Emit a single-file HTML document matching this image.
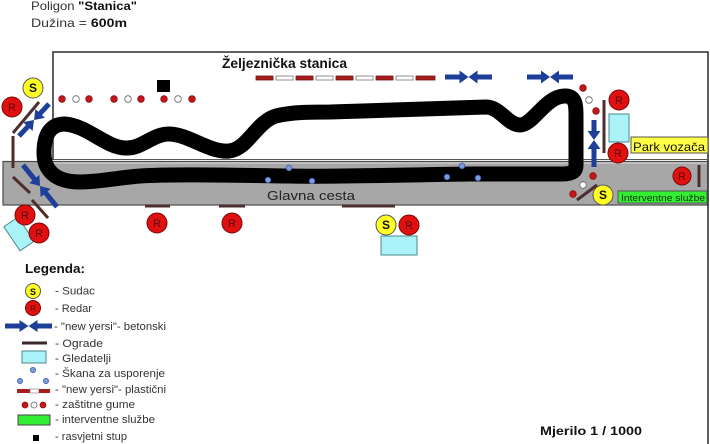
<!DOCTYPE html>
<html><head><meta charset="utf-8"><style>
html,body{margin:0;padding:0;background:#fff;}
svg{display:block;}
text{font-family:"Liberation Sans",sans-serif;}
</style></head><body>
<svg width="710" height="444" viewBox="0 0 710 444" xmlns="http://www.w3.org/2000/svg">
<rect width="710" height="444" fill="#fff"/>
<!-- header -->
<text x="31" y="10" font-size="12" fill="#333" textLength="106" lengthAdjust="spacingAndGlyphs">Poligon <tspan font-weight="bold" fill="#111">"Stanica"</tspan></text>
<text x="31" y="27" font-size="12" fill="#333" textLength="96" lengthAdjust="spacingAndGlyphs">Dužina = <tspan font-weight="bold" fill="#111">600m</tspan></text>

<!-- road -->
<rect x="3" y="161.5" width="705" height="43.5" fill="#a7a7a7" stroke="#4a4a4a" stroke-width="1.2"/>
<line x1="53" y1="163" x2="708" y2="163" stroke="#c8c8c8" stroke-width="1.5"/>
<!-- white area border -->
<polyline points="53,160 53,52 708,52 708,444" fill="none" stroke="#2a2a2a" stroke-width="1.5"/>
<line x1="53" y1="159.5" x2="708" y2="159.5" stroke="#555" stroke-width="1"/>

<!-- track -->
<path d="M 65 124 C 88 126, 105 147, 125 148 C 142 149, 152 134, 169 134 C 188 134, 210 153, 229 151 C 248 149, 256 122, 276 116 C 292 112, 310 112, 330 112 L 486 107 C 500 107, 508 125, 520 125 C 533 125, 545 97, 564 96 C 577 95, 576 108, 576 118 L 576 165 C 576 172, 571 174, 562 174 L 470 174 C 400 175, 330 177, 290 176 C 220 175, 170 174, 140 176 C 115 178, 100 182, 80 182 C 55 182, 44 170, 44 153 C 44 135, 50 124, 65 124 Z" fill="none" stroke="#000" stroke-width="15" stroke-linejoin="round"/>

<text x="267" y="200" font-size="13" fill="#222" textLength="88" lengthAdjust="spacingAndGlyphs">Glavna cesta</text>
<text x="222" y="68" font-size="14" font-weight="bold" fill="#111" textLength="125" lengthAdjust="spacingAndGlyphs">Željeznička stanica</text>

<!-- plastic barrier row -->
<g stroke-width="0.8">
<rect x="256" y="76" width="17" height="4" fill="#a51d1d" stroke="#7a1010"/>
<rect x="276" y="76" width="17" height="4" fill="#fff" stroke="#777"/>
<rect x="296" y="76" width="17" height="4" fill="#a51d1d" stroke="#7a1010"/>
<rect x="316" y="76" width="17" height="4" fill="#fff" stroke="#777"/>
<rect x="336" y="76" width="17" height="4" fill="#a51d1d" stroke="#7a1010"/>
<rect x="356" y="76" width="17" height="4" fill="#fff" stroke="#777"/>
<rect x="376" y="76" width="17" height="4" fill="#a51d1d" stroke="#7a1010"/>
<rect x="396" y="76" width="17" height="4" fill="#fff" stroke="#777"/>
<rect x="416" y="76" width="19" height="4" fill="#a51d1d" stroke="#7a1010"/>
</g>

<!-- blue concrete barriers -->
<g fill="#1d3f9a">
<path transform="translate(468.5,77)" d="M -23.5,-2.5 H -9 V -6.5 L 0 0 L -9 6.5 V 2.5 H -23.5 Z M 23.5,-2.5 H 9 V -6.5 L 0 0 L 9 6.5 V 2.5 H 23.5 Z"/>
<path transform="translate(550,77)" d="M -23,-2.5 H -9 V -6.5 L 0 0 L -9 6.5 V 2.5 H -23 Z M 23,-2.5 H 9 V -6.5 L 0 0 L 9 6.5 V 2.5 H 23 Z"/>
<path transform="translate(594,140) rotate(90)" d="M -20,-2.5 H -9 V -6.5 L 0 0 L -9 6.5 V 2.5 H -20 Z M 27,-2.5 H 9 V -6.5 L 0 0 L 9 6.5 V 2.5 H 27 Z"/>
<path transform="translate(34,120) rotate(-47)" d="M -22,-2.5 H -9 V -6.5 L 0 0 L -9 6.5 V 2.5 H -22 Z M 22,-2.5 H 9 V -6.5 L 0 0 L 9 6.5 V 2.5 H 22 Z"/>
<path transform="translate(40,186) rotate(51)" d="M -27,-2.5 H -9 V -6.5 L 0 0 L -9 6.5 V 2.5 H -27 Z M 27,-2.5 H 9 V -6.5 L 0 0 L 9 6.5 V 2.5 H 27 Z"/>
</g>

<!-- brown fences -->
<g stroke="#4d2d2d" stroke-width="3" fill="none">
<line x1="13" y1="133" x2="39" y2="102"/>
<line x1="13" y1="136" x2="13" y2="168"/>
<line x1="13" y1="177" x2="30" y2="193"/>
<line x1="32" y1="200" x2="48" y2="218"/>
<line x1="604" y1="100" x2="604" y2="153"/>
<line x1="577" y1="200" x2="597" y2="185"/>
<line x1="699" y1="165" x2="699" y2="187"/>
<line x1="145" y1="206" x2="170" y2="206"/>
<line x1="219" y1="206" x2="245" y2="206"/>
<line x1="342" y1="206" x2="395" y2="206"/>
</g>

<!-- tires -->
<g stroke-width="0.8">
<circle cx="62" cy="99" r="3.3" fill="#c5161c" stroke="#8a1010"/>
<circle cx="76" cy="99" r="3.3" fill="#fff" stroke="#666"/>
<circle cx="89" cy="99" r="3.3" fill="#c5161c" stroke="#8a1010"/>
<circle cx="114" cy="99" r="3.3" fill="#c5161c" stroke="#8a1010"/>
<circle cx="128" cy="99" r="3.3" fill="#fff" stroke="#666"/>
<circle cx="141" cy="99" r="3.3" fill="#c5161c" stroke="#8a1010"/>
<circle cx="164" cy="99" r="3.3" fill="#c5161c" stroke="#8a1010"/>
<circle cx="178" cy="99" r="3.3" fill="#fff" stroke="#666"/>
<circle cx="192" cy="99" r="3.3" fill="#c5161c" stroke="#8a1010"/>
<circle cx="583" cy="88" r="3.3" fill="#c5161c" stroke="#8a1010"/>
<circle cx="589" cy="100" r="3.3" fill="#fff" stroke="#666"/>
<circle cx="596" cy="111" r="3.3" fill="#c5161c" stroke="#8a1010"/>
<circle cx="593" cy="176" r="3.3" fill="#c5161c" stroke="#8a1010"/>
<circle cx="583" cy="185" r="3.3" fill="#fff" stroke="#666"/>
<circle cx="573" cy="194" r="3.3" fill="#c5161c" stroke="#8a1010"/>
</g>

<!-- light pole -->
<rect x="157" y="80" width="13" height="12" fill="#000"/>

<!-- chicane dots -->
<g fill="#7d9be0" stroke="#3a5aa8" stroke-width="0.8">
<circle cx="289" cy="168" r="2.8"/>
<circle cx="268" cy="180" r="2.8"/>
<circle cx="312" cy="181" r="2.8"/>
<circle cx="462" cy="166" r="2.8"/>
<circle cx="447" cy="177" r="2.8"/>
<circle cx="478" cy="178" r="2.8"/>
</g>

<!-- spectators -->
<g fill="#aaf3f8" stroke="#4a8a90" stroke-width="1">
<rect x="609" y="114" width="20" height="28"/>
<rect x="381" y="236" width="36" height="19"/>
<rect x="-8.5" y="-14.5" width="17" height="29" transform="translate(19,234) rotate(-34)"/>
</g>

<!-- Park vozaca -->
<rect x="631" y="137" width="77" height="16" fill="#ffff44" stroke="#555" stroke-width="1"/>
<text x="633" y="151" font-size="12" fill="#111" textLength="72" lengthAdjust="spacingAndGlyphs">Park vozača</text>
<!-- Interventne sluzbe -->
<rect x="618" y="191" width="89" height="12" fill="#33ee33" stroke="#555" stroke-width="1"/>
<text x="621" y="201" font-size="9" fill="#113311" textLength="84" lengthAdjust="spacingAndGlyphs">Interventne službe</text>

<!-- S circles -->
<g fill="#ffff22" stroke="#555" stroke-width="1">
<circle cx="33" cy="88" r="10"/>
<circle cx="603" cy="195" r="10"/>
<circle cx="386" cy="225" r="10"/>
<circle cx="33" cy="291" r="7.5"/>
</g>
<g font-size="12" font-weight="bold" fill="#111" text-anchor="middle">
<text x="33" y="92">S</text>
<text x="603" y="199">S</text>
<text x="386" y="229">S</text>
<text x="33" y="295" font-size="9">S</text>
</g>
<!-- R circles -->
<g fill="#e01010" stroke="#7a0808" stroke-width="1">
<circle cx="12" cy="107" r="10"/>
<circle cx="25" cy="215" r="10"/>
<circle cx="39" cy="233" r="10"/>
<circle cx="619" cy="100" r="10"/>
<circle cx="618" cy="153" r="10"/>
<circle cx="682" cy="176" r="9"/>
<circle cx="157" cy="223" r="10"/>
<circle cx="232" cy="223" r="10"/>
<circle cx="409" cy="225" r="10"/>
<circle cx="33" cy="308" r="7.5"/>
</g>
<g font-size="11" fill="#5a0a0a" text-anchor="middle">
<text x="12" y="111">R</text>
<text x="25" y="219">R</text>
<text x="39" y="237">R</text>
<text x="619" y="104">R</text>
<text x="618" y="157">R</text>
<text x="682" y="180">R</text>
<text x="157" y="227">R</text>
<text x="232" y="227">R</text>
<text x="409" y="229">R</text>
<text x="33" y="311" font-size="8">R</text>
</g>

<!-- legend -->
<text x="25" y="273" font-size="13" font-weight="bold" fill="#111" textLength="60" lengthAdjust="spacingAndGlyphs">Legenda:</text>
<path fill="#1d3f9a" transform="translate(28.5,326)" d="M -23.5,-2.5 H -9 V -6 L 0 0 L -9 6 V 2.5 H -23.5 Z M 23.5,-2.5 H 9 V -6 L 0 0 L 9 6 V 2.5 H 23.5 Z"/>
<line x1="22" y1="343" x2="47" y2="343" stroke="#3a2a2a" stroke-width="3"/>
<rect x="22" y="351" width="24" height="12" fill="#aaf3f8" stroke="#4a8a90" stroke-width="1"/>
<g fill="#7d9be0" stroke="#3a5aa8" stroke-width="0.8">
<circle cx="33" cy="370" r="2.6"/><circle cx="20" cy="381" r="2.6"/><circle cx="46" cy="381" r="2.6"/>
</g>
<rect x="17" y="389" width="13" height="4" fill="#a51d1d"/>
<rect x="30" y="389" width="9" height="4" fill="#fff" stroke="#777" stroke-width="0.6"/>
<rect x="39" y="389" width="11" height="4" fill="#a51d1d"/>
<circle cx="25" cy="405" r="3" fill="#c5161c" stroke="#8a1010" stroke-width="0.8"/>
<circle cx="34" cy="405" r="3" fill="#fff" stroke="#666" stroke-width="0.8"/>
<circle cx="43" cy="405" r="3" fill="#c5161c" stroke="#8a1010" stroke-width="0.8"/>
<rect x="18" y="415" width="32" height="10" fill="#33ee33" stroke="#444" stroke-width="1"/>
<rect x="33" y="435" width="6" height="6" fill="#000"/>

<g font-size="11" fill="#333">
<text x="55" y="294.5" textLength="40" lengthAdjust="spacingAndGlyphs">- Sudac</text>
<text x="55" y="312" textLength="37" lengthAdjust="spacingAndGlyphs">- Redar</text>
<text x="54" y="330" textLength="112" lengthAdjust="spacingAndGlyphs">- "new yersi"- betonski</text>
<text x="55" y="347" textLength="48" lengthAdjust="spacingAndGlyphs">- Ograde</text>
<text x="55" y="362" textLength="56" lengthAdjust="spacingAndGlyphs">- Gledatelji</text>
<text x="55" y="377" textLength="110" lengthAdjust="spacingAndGlyphs">- Škana za usporenje</text>
<text x="55" y="393" textLength="111" lengthAdjust="spacingAndGlyphs">- "new yersi"- plastični</text>
<text x="55" y="408" textLength="80" lengthAdjust="spacingAndGlyphs">- zaštitne gume</text>
<text x="55" y="423" textLength="100" lengthAdjust="spacingAndGlyphs">- interventne službe</text>
<text x="55" y="440" textLength="72" lengthAdjust="spacingAndGlyphs">- rasvjetni stup</text>
</g>

<text x="540" y="435" font-size="12" font-weight="bold" fill="#111" textLength="102" lengthAdjust="spacingAndGlyphs">Mjerilo  1 / 1000</text>
</svg>
</body></html>
